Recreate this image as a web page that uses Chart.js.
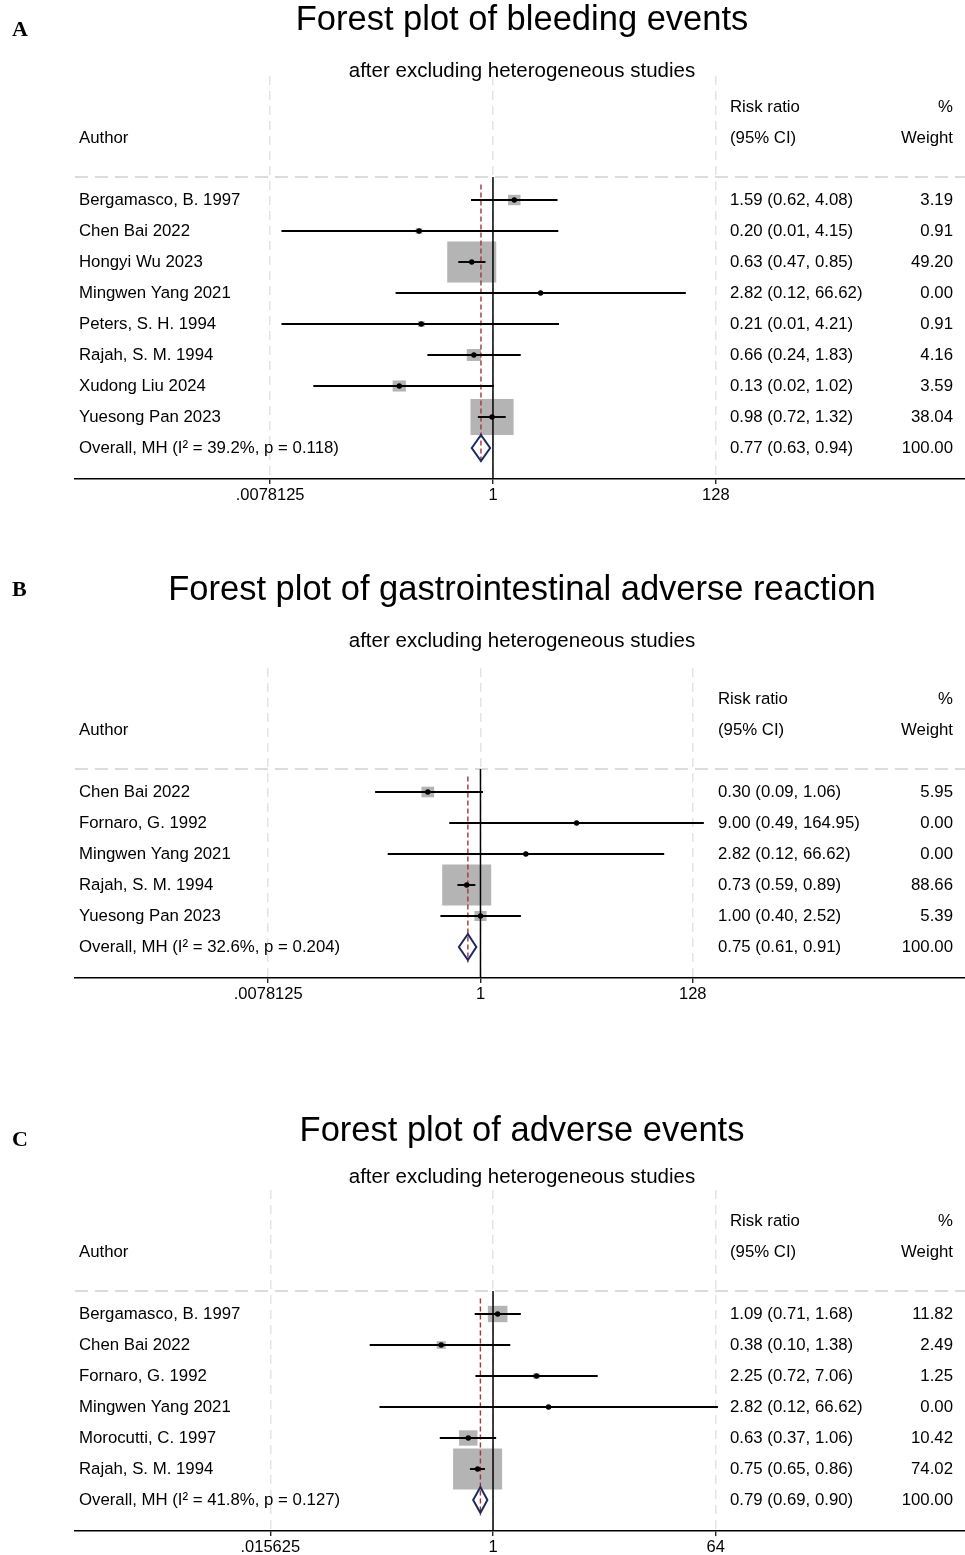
<!DOCTYPE html>
<html>
<head>
<meta charset="utf-8">
<script src="https://cdn.jsdelivr.net/npm/chart.js@4.4.1/dist/chart.umd.min.js"></script>
<style>
  html, body { margin: 0; background: #fff; overflow: hidden; }
  #wrap { position: relative; width: 965px; height: 1555px; overflow: hidden; }
  canvas { position: absolute; left: 0; }
</style>
</head>
<body>
<div id="wrap">
  <canvas id="plotA"></canvas>
  <canvas id="plotB"></canvas>
  <canvas id="plotC"></canvas>
</div>
<script>
// Panel A - bleeding events
const authorsA = ['Bergamasco, B. 1997', 'Chen Bai 2022', 'Hongyi Wu 2023', 'Mingwen Yang 2021',
                  'Peters, S. H. 1994', 'Rajah, S. M. 1994', 'Xudong Liu 2024', 'Yuesong Pan 2023'];
const rrA = [1.59, 0.20, 0.63, 2.82, 0.21, 0.66, 0.13, 0.98];
const lowA = [0.62, 0.01, 0.47, 0.12, 0.01, 0.24, 0.02, 0.72];
const highA = [4.08, 4.15, 0.85, 66.62, 4.21, 1.83, 1.02, 1.32];
const weightA = [3.19, 0.91, 49.20, 0.00, 0.91, 4.16, 3.59, 38.04];
const overallA = [0.77, 0.63, 0.94];
const overallLabelA = 'Overall, MH (I\u00b2 = 39.2%, p = 0.118)';
const tickValsA = [0.0078125, 1, 128];
const tickLabelsA = ['.0078125', '1', '128'];

// Panel B - gastrointestinal adverse reaction
const authorsB = ['Chen Bai 2022', 'Fornaro, G. 1992', 'Mingwen Yang 2021', 'Rajah, S. M. 1994', 'Yuesong Pan 2023'];
const rrB = [0.30, 9.00, 2.82, 0.73, 1.00];
const lowB = [0.09, 0.49, 0.12, 0.59, 0.40];
const highB = [1.06, 164.95, 66.62, 0.89, 2.52];
const weightB = [5.95, 0.00, 0.00, 88.66, 5.39];
const overallB = [0.75, 0.61, 0.91];
const overallLabelB = 'Overall, MH (I\u00b2 = 32.6%, p = 0.204)';
const tickValsB = [0.0078125, 1, 128];
const tickLabelsB = ['.0078125', '1', '128'];

// Panel C - adverse events
const authorsC = ['Bergamasco, B. 1997', 'Chen Bai 2022', 'Fornaro, G. 1992', 'Mingwen Yang 2021',
                  'Morocutti, C. 1997', 'Rajah, S. M. 1994'];
const rrC = [1.09, 0.38, 2.25, 2.82, 0.63, 0.75];
const lowC = [0.71, 0.10, 0.72, 0.12, 0.37, 0.65];
const highC = [1.68, 1.38, 7.06, 66.62, 1.06, 0.86];
const weightC = [11.82, 2.49, 1.25, 0.00, 10.42, 74.02];
const overallC = [0.79, 0.69, 0.90];
const overallLabelC = 'Overall, MH (I\u00b2 = 41.8%, p = 0.127)';
const tickValsC = [0.015625, 1, 64];
const tickLabelsC = ['.015625', '1', '64'];

const FONT = "'Liberation Sans', Arial, sans-serif";
const ROW_H = 31;
const CANVAS_W = 970;   // chart.js keeps ~5px on the right, let it fall outside the page

function fmt(v) { return v.toFixed(2); }

function makePanel(id, p) {
    const canvas = document.getElementById(id);
    canvas.width = CANVAS_W;
    canvas.height = p.height;
    canvas.style.width = CANVAS_W + 'px';
    canvas.style.height = p.height + 'px';
    canvas.style.top = p.top + 'px';
    const nRows = p.authors.length + 1;
    const chartTop = p.firstRow - 4 * ROW_H;
    const chartBottom = p.firstRow + nRows * ROW_H;
    const axisH = 25;

    const ciSets = p.authors.map((a, i) => ({
        data: [{ x: p.low[i], y: i }, { x: p.high[i], y: i }],
        showLine: true,
        borderColor: '#000',
        borderWidth: 1.9,
        pointRadius: 0
    }));

    const forestPlugin = {
        id: 'forest',
        beforeDatasetsDraw(chart) {
            const c = chart.ctx, x = chart.scales.x, y = chart.scales.y, area = chart.chartArea;
            // header separator
            c.save();
            c.strokeStyle = '#cfcfcf';
            c.lineWidth = 1.5;
            c.setLineDash([13, 7]);
            c.beginPath();
            c.moveTo(area.left, y.getPixelForValue(-0.74));
            c.lineTo(area.right, y.getPixelForValue(-0.74));
            c.stroke();
            c.restore();
            // weight boxes
            const maxW = Math.max(...p.weight);
            c.save();
            c.fillStyle = '#b4b4b4';
            p.weight.forEach((w, i) => {
                if (w <= 0) return;
                const s = Math.sqrt(w / maxW);
                const bw = 49 * s, bh = 41 * s;
                const cx = x.getPixelForValue(p.rr[i]), cy = y.getPixelForValue(i);
                c.fillRect(cx - bw / 2, cy - bh / 2, bw, bh);
            });
            c.restore();
            // null line
            c.save();
            c.strokeStyle = '#000';
            c.lineWidth = 1.5;
            c.beginPath();
            c.moveTo(x.getPixelForValue(1), y.getPixelForValue(-0.74));
            c.lineTo(x.getPixelForValue(1), area.bottom);
            c.stroke();
            // overall estimate line
            c.strokeStyle = '#a8323a';
            c.lineWidth = 1.4;
            c.setLineDash([5, 3]);
            c.beginPath();
            c.moveTo(x.getPixelForValue(p.overall[0]), y.getPixelForValue(-0.5));
            c.lineTo(x.getPixelForValue(p.overall[0]), y.getPixelForValue(nRows - 0.5));
            c.stroke();
            c.restore();
        },
        afterDatasetsDraw(chart) {
            const c = chart.ctx, x = chart.scales.x, y = chart.scales.y;
            const oy = y.getPixelForValue(nRows - 1);
            // pooled diamond
            c.save();
            c.strokeStyle = '#1c2a5e';
            c.lineWidth = 2;
            c.beginPath();
            c.moveTo(x.getPixelForValue(p.overall[1]), oy);
            c.lineTo(x.getPixelForValue(p.overall[0]), oy - 13);
            c.lineTo(x.getPixelForValue(p.overall[2]), oy);
            c.lineTo(x.getPixelForValue(p.overall[0]), oy + 13);
            c.closePath();
            c.stroke();
            c.restore();

            // texts
            c.save();
            c.fillStyle = '#000';
            c.textBaseline = 'middle';
            c.font = '16.8px ' + FONT;
            c.textAlign = 'left';
            c.fillText('Risk ratio', p.ciX, y.getPixelForValue(-3));
            c.fillText('(95% CI)', p.ciX, y.getPixelForValue(-2));
            c.fillText('Author', 79, y.getPixelForValue(-2));
            c.textAlign = 'right';
            c.fillText('%', 953, y.getPixelForValue(-3));
            c.fillText('Weight', 953, y.getPixelForValue(-2));

            const labels = p.authors.concat([p.overallLabel]);
            const rr = p.rr.concat([p.overall[0]]);
            const lo = p.low.concat([p.overall[1]]);
            const hi = p.high.concat([p.overall[2]]);
            const wt = p.weight.concat([100]);
            labels.forEach((lab, i) => {
                const py = y.getPixelForValue(i);
                c.textAlign = 'left';
                c.fillText(lab, 79, py);
                c.fillText(fmt(rr[i]) + ' (' + fmt(lo[i]) + ', ' + fmt(hi[i]) + ')', p.ciX, py);
                c.textAlign = 'right';
                c.fillText(fmt(wt[i]), 953, py);
            });

            // titles
            c.textAlign = 'center';
            c.font = '34.5px ' + FONT;
            c.fillText(p.title, 522, p.titleY);
            c.font = '20.5px ' + FONT;
            c.fillText('after excluding heterogeneous studies', 522, p.subY);
            c.textAlign = 'left';
            c.font = "bold 22px 'Liberation Serif', 'Times New Roman', serif";
            c.fillText(p.letter, 12, p.letterY);
            c.restore();
        }
    };

    new Chart(canvas, {
        type: 'scatter',
        data: {
            datasets: ciSets.concat([{
                data: p.rr.map((v, i) => ({ x: v, y: i })),
                pointRadius: 2.7,
                pointBackgroundColor: '#000',
                pointBorderColor: '#000',
                pointBorderWidth: 0,
                showLine: false
            }])
        },
        options: {
            responsive: false,
            animation: false,
            events: [],
            layout: {
                padding: { left: 75, right: 0, top: chartTop - p.top, bottom: p.height - (chartBottom - p.top) - axisH }
            },
            scales: {
                x: {
                    type: 'logarithmic',
                    min: p.xRange[0],
                    max: p.xRange[1],
                    bounds: 'data',
                    afterBuildTicks: s => { s.ticks = p.tickVals.map(v => ({ value: v })); },
                    afterFit: s => { s.height = axisH; },
                    ticks: {
                        autoSkip: false,
                        maxRotation: 0,
                        padding: 2,
                        color: '#000',
                        font: { family: FONT, size: 16.5 },
                        callback: (v, i) => p.tickLabels[i]
                    },
                    grid: {
                        color: '#e4e4e4',
                        lineWidth: 1.5,
                        drawTicks: true,
                        tickLength: 5,
                        tickColor: '#000',
                        tickWidth: 1.2,
                        tickBorderDash: []
                    },
                    border: { display: true, color: '#000', width: 1.5, dash: [9, 6] }
                },
                y: {
                    type: 'linear',
                    display: false,
                    reverse: true,
                    min: -4,
                    max: nRows
                }
            },
            plugins: {
                legend: { display: false },
                tooltip: { enabled: false }
            }
        },
        plugins: [forestPlugin]
    });
}

makePanel('plotA', {
    top: 0, height: 520, firstRow: 200, ciX: 730,
    titleY: 20, subY: 71, letterY: 30, letter: 'A',
    title: 'Forest plot of bleeding events',
    authors: authorsA, rr: rrA, low: lowA, high: highA, weight: weightA,
    overall: overallA, overallLabel: overallLabelA,
    tickVals: tickValsA, tickLabels: tickLabelsA,
    xRange: [Math.pow(2, -13.13), Math.pow(2, 14.86)]
});

makePanel('plotB', {
    top: 560, height: 460, firstRow: 792, ciX: 718,
    titleY: 30, subY: 81, letterY: 30, letter: 'B',
    title: 'Forest plot of gastrointestinal adverse reaction',
    authors: authorsB, rr: rrB, low: lowB, high: highB, weight: weightB,
    overall: overallB, overallLabel: overallLabelB,
    tickVals: tickValsB, tickLabels: tickLabelsB,
    xRange: [Math.pow(2, -13.37), Math.pow(2, 16.01)]
});

makePanel('plotC', {
    top: 1100, height: 455, firstRow: 1314, ciX: 730,
    titleY: 31, subY: 77, letterY: 40, letter: 'C',
    title: 'Forest plot of adverse events',
    authors: authorsC, rr: rrC, low: lowC, high: highC, weight: weightC,
    overall: overallC, overallLabel: overallLabelC,
    tickVals: tickValsC, tickLabels: tickLabelsC,
    xRange: [Math.pow(2, -11.26), Math.pow(2, 12.74)]
});
</script>
</body>
</html>
